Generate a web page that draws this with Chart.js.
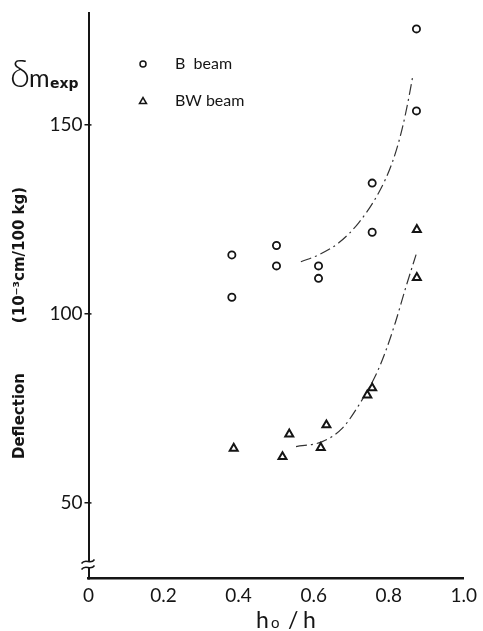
<!DOCTYPE html>
<html><head><meta charset="utf-8">
<script src="https://cdn.jsdelivr.net/npm/chart.js@4"></script>
<style>html,body{margin:0;padding:0;background:#fff;}#wrap{width:483px;height:631px;}</style>
</head><body><div id="wrap"><canvas id="c" width="483" height="631"></canvas></div>
<script>
// ---- data ----
const bBeamX = [0.382,0.382,0.501,0.501,0.613,0.613,0.756,0.756,0.874,0.874];
const bBeamY = [115.6,104.4,118.1,112.7,112.7,109.4,134.6,121.6,175.4,153.7];
const bwBeamX = [0.387,0.517,0.535,0.619,0.634,0.743,0.756,0.875,0.875];
const bwBeamY = [64.4,62.2,68.2,64.6,70.6,78.5,80.4,122.3,109.6];
const bFitX = [0.566,0.615,0.667,0.720,0.773,0.809,0.835,0.854,0.864];
const bFitY = [113.8,115.7,118.8,124.1,132.0,139.9,148.6,157.4,162.8];
const bwFitX = [0.553,0.623,0.676,0.720,0.765,0.791,0.818,0.844,0.873];
const bwFitY = [64.9,66.2,69.7,75.8,83.7,89.9,97.8,106.5,115.7];
const xTickValues = [0,0.2,0.4,0.6,0.8,1.0];
const xTickLabels = ["0","0.2","0.4","0.6","0.8","1.0"];
const yTickValues = [50,100,150];
const yTickLabels = ["50","100","150"];
const legendLabels = ["B  beam","BW beam"];

const pts = (xs, ys) => xs.map((x,i)=>({x:x, y:ys[i]}));
const INK = '#151515';
const TICKFONT = {family:'Lato, "DejaVu Sans", sans-serif', size:19, weight:'400'};

const extras = {
  id:'extras',
  afterDraw(chart){
    const ctx = chart.ctx, ys = chart.scales.y, xs = chart.scales.x;
    const ax = xs.left;
    ctx.save();
    ctx.strokeStyle = INK; ctx.fillStyle = INK;
    // inner half of y tick marks
    ctx.lineWidth = 1.5;
    yTickValues.forEach(v=>{
      const py = ys.getPixelForValue(v);
      ctx.beginPath(); ctx.moveTo(ax, py); ctx.lineTo(ax+3, py); ctx.stroke();
    });
    // axis break mark
    const by = ys.bottom - 14;
    ctx.fillStyle = '#fff';
    ctx.fillRect(ax-2, by-3, 4, 6);
    ctx.lineWidth = 1.5; ctx.strokeStyle = INK;
    [-3,3].forEach(d=>{
      ctx.beginPath();
      ctx.moveTo(ax-7, by+d+2);
      ctx.bezierCurveTo(ax-3, by+d-4, ax+2, by+d+4, ax+6, by+d-2);
      ctx.stroke();
    });
    // y title (rotated)
    ctx.fillStyle = INK;
    ctx.save();
    ctx.translate(20, 0);
    ctx.rotate(-Math.PI/2);
    ctx.font = 'bold 15px "DejaVu Sans", sans-serif';
    ctx.textAlign = 'center'; ctx.textBaseline = 'middle';
    ctx.fillText('Deflection', -416, 0);
    ctx.fillText('(10\u207B\u00B3cm/100 kg)', -255, 0);
    ctx.restore();
    // delta m exp
    ctx.textBaseline = 'alphabetic'; ctx.textAlign = 'left';
    ctx.font = '300 37px Lato, "DejaVu Sans", sans-serif';
    ctx.fillText('\u03B4', 10, 87);
    ctx.font = '400 25px Lato, "DejaVu Sans", sans-serif';
    ctx.fillText('m', 29, 87);
    ctx.font = 'bold 14px "DejaVu Sans", sans-serif';
    ctx.fillText('exp', 50, 88);
    // x title h0 / h
    ctx.font = '400 23px Lato, "DejaVu Sans", sans-serif';
    ctx.fillText('h', 256, 628);
    ctx.font = '400 15px Lato, "DejaVu Sans", sans-serif';
    ctx.fillText('o', 271, 628);
    ctx.font = '400 23px Lato, "DejaVu Sans", sans-serif';
    ctx.fillText('/', 288, 628);
    ctx.fillText('h', 303, 628);
    // legend
    ctx.lineWidth = 1.5;
    ctx.beginPath(); ctx.arc(143, 64, 3, 0, Math.PI*2); ctx.stroke();
    ctx.beginPath(); ctx.moveTo(139.5, 103.5); ctx.lineTo(146.5, 103.5); ctx.lineTo(143, 97.5); ctx.closePath(); ctx.stroke();
    ctx.font = '16px Lato, "DejaVu Sans", sans-serif';
    ctx.textBaseline = 'middle';
    ctx.fillText(legendLabels[0], 175, 64);
    ctx.fillText(legendLabels[1], 175, 101);
    ctx.restore();
  }
};

new Chart(document.getElementById('c'), {
  type:'scatter',
  data:{datasets:[
    {label:'B beam', data:pts(bBeamX,bBeamY), pointStyle:'circle', pointRadius:3.6, pointBorderWidth:1.8,
     borderColor:INK, backgroundColor:'#fff', showLine:false},
    {label:'BW beam', data:pts(bwBeamX,bwBeamY), pointStyle:'triangle', pointRadius:4.6, pointBorderWidth:2,
     borderColor:INK, backgroundColor:'#fff', showLine:false},
    {label:'B fit', data:pts(bFitX,bFitY), showLine:true, pointRadius:0, borderColor:'#333', borderWidth:1.2,
     borderDash:[11,4,2,4], cubicInterpolationMode:'monotone', fill:false},
    {label:'BW fit', data:pts(bwFitX,bwFitY), showLine:true, pointRadius:0, borderColor:'#333', borderWidth:1.2,
     borderDash:[11,4,2,4], cubicInterpolationMode:'monotone', fill:false}
  ]},
  options:{
    responsive:false, animation:false, devicePixelRatio:1,
    layout:{padding:{top:10, right:18, left:0, bottom:0}},
    plugins:{legend:{display:false}, tooltip:{enabled:false}},
    scales:{
      x:{type:'linear', min:0, max:1,
         afterBuildTicks(s){ s.ticks = xTickValues.map(v=>({value:v})); },
         afterFit(s){ s.height = 52.5; },
         grid:{display:false, drawTicks:false},
         border:{display:true, color:INK, width:2.5},
         ticks:{color:INK, font:TICKFONT, padding:6, maxRotation:0,
           callback:(v)=>{ const i = xTickValues.indexOf(v); return i>=0 ? xTickLabels[i] : ''; }}},
      y:{type:'linear', min:30, max:179.5,
         afterBuildTicks(s){ s.ticks = yTickValues.map(v=>({value:v})); },
         afterFit(s){ s.width = 88.5; },
         grid:{drawOnChartArea:false, drawTicks:true, tickLength:4, color:INK, lineWidth:1.5},
         border:{display:true, color:INK, width:2},
         ticks:{color:INK, font:TICKFONT, padding:2,
           callback:(v)=>{ const i = yTickValues.indexOf(v); return i>=0 ? yTickLabels[i] : ''; }}}
    }
  },
  plugins:[extras]
});
</script></body></html>
